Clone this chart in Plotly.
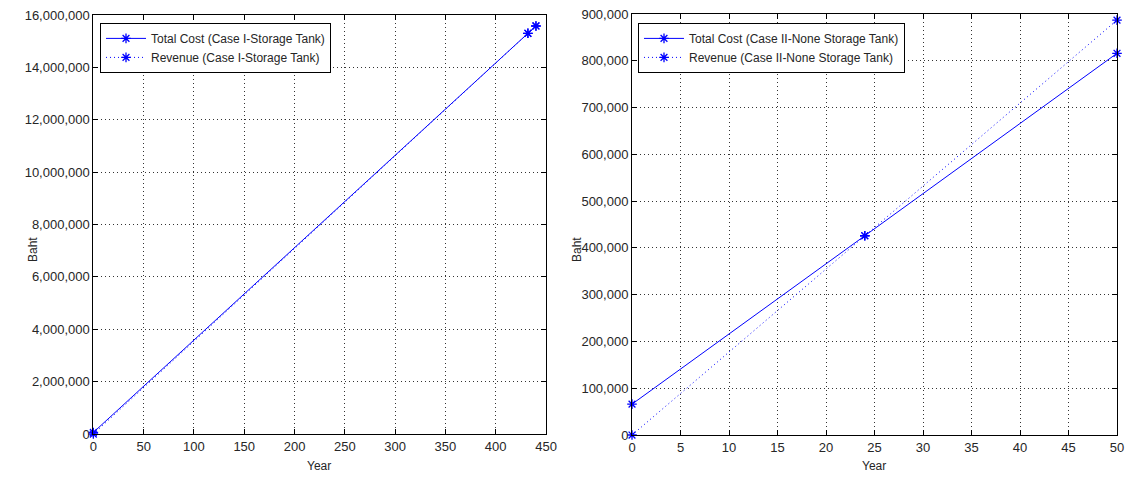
import plotly.graph_objects as go

# Case I: storage tank (break-even near year 432)
years_case1 = [0, 432, 440]
cost_case1 = [60000, 15300000, 15580000]
revenue_case1 = [0, 15300000, 15580000]

# Case II: no storage tank (break-even near year 24)
years_case2 = [0, 24, 50]
cost_case2 = [66000, 426000, 816000]
revenue_case2 = [0, 426000, 887000]

x1_ticks = list(range(0, 451, 50))
y1_ticks = list(range(0, 16000001, 2000000))
x2_ticks = list(range(0, 51, 5))
y2_ticks = list(range(0, 900001, 100000))

BLUE = "rgb(0,0,255)"
FONT = "Liberation Sans Narrow, Arial Narrow, Liberation Sans, Arial"
TEXT = "#262626"

fig = go.Figure()

def add_series(x, y, name, dash, xa, ya, legend):
    fig.add_trace(go.Scatter(
        x=x, y=y, name=name, mode="lines+markers",
        line=dict(color=BLUE, width=1, dash=dash),
        marker=dict(symbol="asterisk-open", size=8, color=BLUE,
                    line=dict(color=BLUE, width=1.3)),
        xaxis=xa, yaxis=ya, legend=legend, cliponaxis=False,
    ))

add_series(years_case1, cost_case1, "Total Cost (Case I-Storage Tank)", "solid", "x", "y", "legend")
add_series(years_case1, revenue_case1, "Revenue (Case I-Storage Tank)", "1px,3px", "x", "y", "legend")
add_series(years_case2, cost_case2, "Total Cost (Case II-None Storage Tank)", "solid", "x2", "y2", "legend2")
add_series(years_case2, revenue_case2, "Revenue (Case II-None Storage Tank)", "1px,3px", "x2", "y2", "legend2")

axis_common = dict(
    showline=True, linecolor="black", linewidth=1, mirror="ticks",
    ticks="inside", ticklen=5, tickcolor="black",
    showgrid=True, gridcolor="#333333", griddash="1px,3px", gridwidth=1,
    zeroline=False, automargin=False,
    tickfont=dict(family=FONT, size=13, color=TEXT),
)

fig.update_layout(
    width=1130, height=477,
    margin=dict(l=0, r=0, t=0, b=0),
    paper_bgcolor="white", plot_bgcolor="white",
    font=dict(family=FONT, size=13, color=TEXT),
    showlegend=True,
    xaxis=dict(domain=[0.0826, 0.4832], range=[0, 450], tickvals=x1_ticks,
               anchor="y", **axis_common),
    yaxis=dict(domain=[0.0901, 0.9686], range=[0, 16000000], tickvals=y1_ticks,
               tickformat=",d", anchor="x", **axis_common),
    xaxis2=dict(domain=[0.5593, 0.9885], range=[0, 50], tickvals=x2_ticks,
                anchor="y2", **axis_common),
    yaxis2=dict(domain=[0.0880, 0.9706], range=[0, 900000], tickvals=y2_ticks,
                tickformat=",d", anchor="x2", **axis_common),
    legend=dict(x=0.0885, y=0.952, xanchor="left", yanchor="top",
                bgcolor="white", bordercolor="black", borderwidth=1,
                font=dict(family=FONT, size=12, color=TEXT),
                tracegroupgap=0, itemwidth=40),
    legend2=dict(x=0.5646, y=0.952, xanchor="left", yanchor="top",
                 bgcolor="white", bordercolor="black", borderwidth=1,
                 font=dict(family=FONT, size=12, color=TEXT),
                 tracegroupgap=0, itemwidth=40),
)

# Axis titles
for x, y, text, angle in [(319, 466, "Year", 0), (874, 466, "Year", 0),
                          (33, 250, "Baht", -90), (577, 250, "Baht", -90)]:
    fig.add_annotation(x=x / 1130, y=1 - y / 477, xref="paper", yref="paper",
                       text=text, showarrow=False, textangle=angle,
                       xanchor="center", yanchor="middle",
                       font=dict(family=FONT, size=12, color=TEXT))

fig.write_html("out.html")
